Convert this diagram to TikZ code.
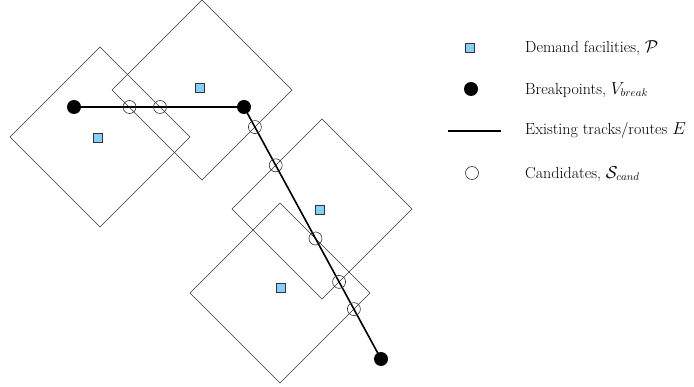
\documentclass[tikz,border=0pt]{standalone}
\usetikzlibrary{calc,intersections}
\definecolor{facblue}{RGB}{135,206,250}
\begin{document}
\begin{tikzpicture}[x=1pt,y=-1pt,
  zone/.style={draw=black!80,line width=0.6pt},
  track/.style={draw=black,line width=1.6pt},
  fac/.style={draw=black!80,fill=facblue,line width=0.7pt,minimum size=9.5pt,inner sep=0pt,rectangle},
  brk/.style={circle,fill=black,minimum size=14pt,inner sep=0pt},
  cand/.style={circle,draw=black!80,fill=none,line width=0.6pt,minimum size=13pt,inner sep=0pt},
  lab/.style={anchor=west,font=\fontsize{16}{19}\selectfont,inner sep=0pt}]
\useasboundingbox (0,0) rectangle (694,387);
% zones
\foreach \n/\cx/\cy in {z1/100/137,z2/202/90,z3/322/209,z4/280/293}
  \draw[zone] (\cx,\cy-90) -- (\cx+90,\cy) -- (\cx,\cy+90) -- (\cx-90,\cy) -- cycle;
% facilities
\node[fac] (p1) at (98,138) {};
\node[fac] (p2) at (200,88) {};
\node[fac] (p3) at (320,210) {};
\node[fac] (p4) at (281,288) {};
% breakpoints
\coordinate (b1) at (74,107);
\coordinate (b2) at (244,107);
\coordinate (b3) at (381,359);
\draw[track] (b1) -- (b2) -- (b3);
\node[brk] (B1) at (b1) {};
\node[brk] (B2) at (b2) {};
\node[brk] (B3) at (b3) {};
% candidates
\node[cand] (c1) at (129.5,107) {};
\node[cand] (c2) at (160,107) {};
\node[cand] (c3) at ($(b2)!0.0797!(b3)$) {};
\node[cand] (c4) at ($(b2)!0.2314!(b3)$) {};
\node[cand] (c5) at ($(b2)!0.5217!(b3)$) {};
\node[cand] (c6) at ($(b2)!0.694!(b3)$) {};
\node[cand] (c7) at ($(b2)!0.802!(b3)$) {};
% legend
\node[fac] (lp) at (470,48) {};
\node[lab] (tp) at (525,48) {Demand facilities, $\mathcal{P}$};
\node[brk] (lb) at (471,89) {};
\node[lab] (tb) at (525,90) {Breakpoints, $V_{break}$};
\coordinate (la) at (448,131);
\coordinate (lbb) at (501,131);
\draw[track] (la) -- (lbb);
\node[lab] (te) at (525,131) {Existing tracks/routes $E$};
\node[cand] (lc) at (472,173) {};
\node[lab] (tc) at (525,174) {Candidates, $\mathcal{S}_{cand}$};
\end{tikzpicture}
\end{document}
